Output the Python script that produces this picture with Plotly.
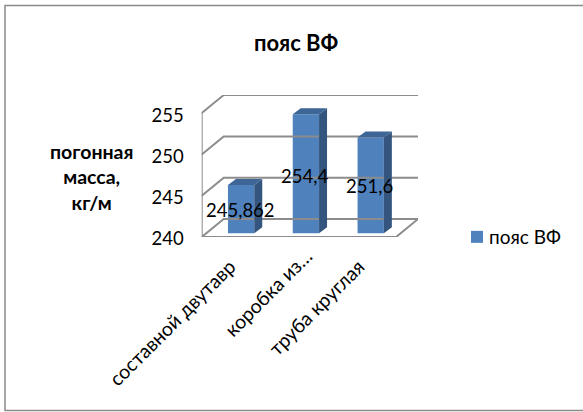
import plotly.graph_objects as go

categories = ["составной двутавр", "коробка из…", "труба круглая"]
values = [245.862, 254.4, 251.6]
value_labels = ["245,862", "254,4", "251,6"]
label_drop_px = [25, 62, 49]
series_name = "пояс ВФ"
title_text = "пояс ВФ"
y_title = ["погонная", "масса,", "кг/м"]
y_ticks = [240, 245, 250, 255]

W, H = 583, 412
FONT = "Lato, 'Open Sans', sans-serif"
GRID = "#8c8c8c"
FRONT = "#4f81bd"
SIDE = "#34557e"
TOP = "#3d6596"

# pixel geometry of the pseudo-3D box
x0_px, x1_px = 201.7, 418.0
y0_px, y1_px = 237.0, 95.0
px_per_cat = 64.8
px_per_unit = 41.3 / 5
xmin = -0.5
xmax = xmin + (x1_px - x0_px) / px_per_cat
ymin = 240
ymax = ymin + (y0_px - y1_px) / px_per_unit

wall_dx = 22 / px_per_cat
wall_dy = 18 / px_per_unit
bar_w = 26.3 / px_per_cat
bar_dx = 8 / px_per_cat
bar_dy = 6 / px_per_unit
bar_shift = 7 / px_per_cat
bar_lift = 3.7 / px_per_unit
bar_base = ymin + bar_lift

fig = go.Figure()


def grid(xs, ys, width=2):
    fig.add_trace(go.Scatter(x=xs, y=ys, mode="lines", showlegend=False, hoverinfo="skip",
                             cliponaxis=False, line=dict(color=GRID, width=width)))


def poly(xs, ys, color):
    fig.add_trace(go.Scatter(x=xs, y=ys, mode="lines", fill="toself", fillcolor=color,
                             line=dict(width=0, color=color), showlegend=False, hoverinfo="skip"))


x_right = 2.5
for t in y_ticks:
    grid([xmin - 5 / px_per_cat, xmin], [t, t])
    grid([xmin, xmin + wall_dx, x_right + wall_dx], [t, t + wall_dy, t + wall_dy])
grid([xmin, xmin], [y_ticks[0], y_ticks[-1]], 2)
grid([xmin, x_right, x_right + wall_dx], [ymin, ymin, ymin + wall_dy], 2)
for k in range(4):
    grid([xmin + k, xmin + k], [ymin, ymin - 5 / px_per_unit])

for i, v in enumerate(values):
    l = i + bar_shift - bar_w / 2
    r = i + bar_shift + bar_w / 2
    top = v + bar_lift
    poly([r, r + bar_dx, r + bar_dx, r], [bar_base, bar_base + bar_dy, top + bar_dy, top], SIDE)
    poly([l, l + bar_dx, r + bar_dx, r], [top, top + bar_dy, top + bar_dy, top], TOP)

fig.add_trace(go.Bar(
    x=[i + bar_shift for i in range(len(values))],
    y=[v - ymin for v in values],
    base=bar_base,
    width=bar_w,
    name=series_name,
    marker=dict(color=FRONT, line=dict(width=0)),
    hoverinfo="skip",
))

for i, (v, lab, drop) in enumerate(zip(values, value_labels, label_drop_px)):
    fig.add_annotation(x=i + bar_shift, y=v + bar_lift, text=lab, showarrow=False, xshift=-1, yshift=-drop,
                       font=dict(family=FONT, size=18.5, color="black"))

fig.add_annotation(xref="paper", yref="paper", x=296 / W, y=1 - 43 / H, text=title_text, showarrow=False,
                   xanchor="center", yanchor="middle",
                   font=dict(family=FONT, size=22, color="black", weight="bold"))
fig.add_annotation(xref="paper", yref="paper", x=91 / W, y=1 - 177 / H, text="<br>".join(y_title), showarrow=False,
                   xanchor="center", yanchor="middle",
                   font=dict(family=FONT, size=19.5, color="black", weight="bold"), align="center")

fig.add_shape(type="rect", xref="paper", yref="paper", x0=5 / W, x1=(W + 5) / W, y0=1 - 5.5 / H, y1=1 - 410.5 / H,
              line=dict(color="#8a8a8a", width=1.5), fillcolor="rgba(0,0,0,0)", layer="below")

tick_pad = [3, 0, 3]
fig.update_layout(
    width=W, height=H, margin=dict(l=0, r=0, t=0, b=0, autoexpand=False),
    paper_bgcolor="white", plot_bgcolor="white", title=None,
    font=dict(family=FONT, color="black"),
    legend=dict(x=449 / W, y=1 - 237 / H, xanchor="left", yanchor="middle", bgcolor="rgba(0,0,0,0)",
                font=dict(family=FONT, size=19, color="black"), traceorder="normal"),
    showlegend=True,
    xaxis=dict(domain=[x0_px / W, x1_px / W], range=[xmin, xmax], showgrid=False, zeroline=False,
               tickmode="array", tickvals=[0.10, 1.12, 2.09],
               ticktext=[c + "\u00a0" * p for c, p in zip(categories, tick_pad)], tickangle=-45,
               tickfont=dict(family=FONT, size=19.5, color="black"), ticks="", showline=False,
               ticklabelstandoff=3),
    yaxis=dict(domain=[1 - y0_px / H, 1 - y1_px / H], range=[ymin, ymax], showgrid=False, zeroline=False,
               tickmode="array", tickvals=y_ticks, ticktext=[str(t) for t in y_ticks],
               tickfont=dict(family=FONT, size=18.5, color="black"), ticks="", showline=False,
               ticklabelstandoff=17, ticklabelshift=2),
)
post = """
document.body.style.margin='0';
var shiftLegend=function(){
  document.querySelectorAll('.legendpoints path').forEach(function(p){
    if(p.dataset.moved){return;}
    p.dataset.moved='1';
    p.setAttribute('transform','translate(8,0) '+(p.getAttribute('transform')||''));
  });
};
shiftLegend();
setTimeout(shiftLegend,0);
"""
fig.write_html("out.html", post_script=post, config=dict(displayModeBar=False))
